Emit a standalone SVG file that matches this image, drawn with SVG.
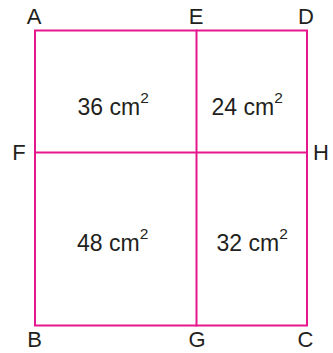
<svg xmlns="http://www.w3.org/2000/svg" width="333" height="353" viewBox="0 0 333 353">
<style>
.ln{stroke:#e6168c;stroke-width:2;fill:none;stroke-linecap:square}
.lb{font-family:"Liberation Sans",Arial,sans-serif;font-size:22px;fill:#231f20;text-anchor:middle}
.ar{font-family:"Liberation Sans",Arial,sans-serif;font-size:23px;fill:#231f20}
.sup{font-size:15.5px}
</style>
<rect width="333" height="353" fill="#ffffff"/>
<g id="connectors">
<rect class="ln" x="35" y="30.5" width="272" height="295"/>
<line class="ln" x1="196.5" y1="30.5" x2="196.5" y2="325.5"/>
<line class="ln" x1="35" y1="152.5" x2="307" y2="152.5"/>
</g>
<g id="A"><text class="lb" x="34" y="24">A</text></g>
<g id="E"><text class="lb" x="196" y="24">E</text></g>
<g id="D"><text class="lb" x="306" y="24">D</text></g>
<g id="F"><text class="lb" x="19" y="160">F</text></g>
<g id="H"><text class="lb" x="321" y="160">H</text></g>
<g id="B"><text class="lb" x="34.5" y="347">B</text></g>
<g id="G"><text class="lb" x="197" y="347">G</text></g>
<g id="C"><text class="lb" x="305.5" y="347">C</text></g>
<g id="r1"><text class="ar" x="77.5" y="114.5">36 cm<tspan class="sup" dy="-11.5">2</tspan></text></g>
<g id="r2"><text class="ar" x="211.5" y="114.5">24 cm<tspan class="sup" dy="-11.5">2</tspan></text></g>
<g id="r3"><text class="ar" x="77" y="250.5">48 cm<tspan class="sup" dy="-11.5">2</tspan></text></g>
<g id="r4"><text class="ar" x="216.5" y="250.5">32 cm<tspan class="sup" dy="-11.5">2</tspan></text></g>
</svg>
